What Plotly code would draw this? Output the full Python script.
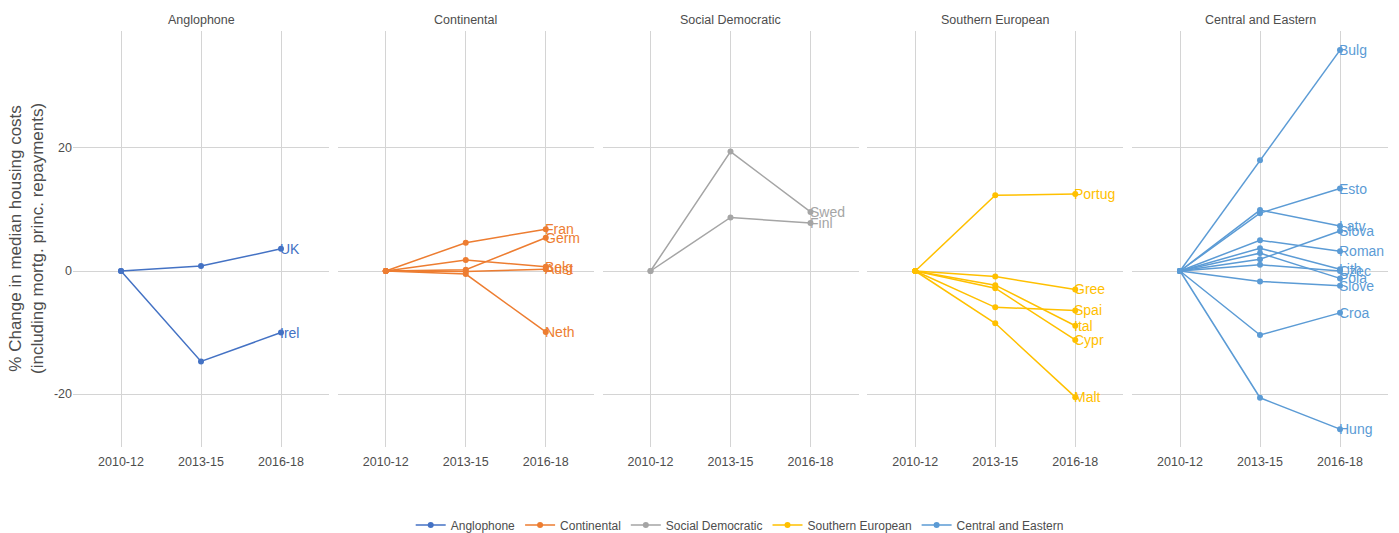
import plotly.graph_objects as go

periods = ["2010-12", "2013-15", "2016-18"]

groups = ["Anglophone", "Continental", "Social Democratic", "Southern European", "Central and Eastern"]
colors = ["#4472C4", "#ED7D31", "#A5A5A5", "#FFC000", "#5B9BD5"]

anglophone_names = ["UK", "Irel"]
anglophone_vals = [[0, 0.8, 3.6], [0, -14.7, -10.0]]

continental_names = ["Fran", "Germ", "Belg", "Aust", "Neth"]
continental_vals = [[0, 4.6, 6.8], [0, 0.2, 5.4], [0, 1.8, 0.7], [0, -0.1, 0.3], [0, -0.5, -9.9]]

socdem_names = ["Swed", "Finl"]
socdem_vals = [[0, 19.4, 9.6], [0, 8.7, 7.8]]

southern_names = ["Portug", "Gree", "Spai", "Ital", "Cypr", "Malt"]
southern_vals = [[0, 12.3, 12.5], [0, -0.9, -3.0], [0, -5.9, -6.4], [0, -2.3, -8.9],
                 [0, -2.8, -11.2], [0, -8.5, -20.5]]

cee_names = ["Bulg", "Esto", "Latv", "Slova", "Roman", "Lith", "Czec", "Pola", "Slove", "Croa", "Hung"]
cee_vals = [[0, 18.0, 35.9], [0, 9.4, 13.4], [0, 9.9, 7.3], [0, 1.9, 6.5], [0, 5.0, 3.2],
            [0, 3.7, 0.3], [0, 1.0, 0.0], [0, 2.9, -1.2], [0, -1.7, -2.4], [0, -10.4, -6.8],
            [0, -20.6, -25.7]]

ytick_vals = [-20, 0, 20]
ytick_text = ["-20", "0", "20"]

all_names = [anglophone_names, continental_names, socdem_names, southern_names, cee_names]
all_vals = [anglophone_vals, continental_vals, socdem_vals, southern_vals, cee_vals]

W, H = 1399, 533
ml, mr, mt, mb = 73, 11, 31, 86
plot_w = W - ml - mr
plot_h = H - mt - mb
panel_w = 256
gap = (plot_w - 5 * panel_w) / 4

fig = go.Figure()
annotations = []
font_family = "Liberation Sans, Arial, sans-serif"

for gi, (g, col, names, vals) in enumerate(zip(groups, colors, all_names, all_vals)):
    ax = "" if gi == 0 else str(gi + 1)
    for si, (n, v) in enumerate(zip(names, vals)):
        fig.add_trace(go.Scatter(
            x=periods, y=v, mode="lines+markers",
            line=dict(color=col, width=1.5),
            marker=dict(color=col, size=6),
            name=g, legendgroup=g, showlegend=(si == 0),
            xaxis="x" + ax, yaxis="y" + ax,
            hovertemplate=n + ": %{y}<extra></extra>",
        ))
        annotations.append(dict(
            x=periods[-1], y=v[-1], xref="x" + ax, yref="y" + ax,
            text=n, showarrow=False, xanchor="left", yanchor="middle",
            xshift=-2, borderpad=0,
            font=dict(color=col, size=14, family=font_family),
        ))
    d0 = gi * (panel_w + gap) / plot_w
    d1 = (gi * (panel_w + gap) + panel_w) / plot_w
    xaxis = dict(
        domain=[d0, d1], type="category", categoryorder="array", categoryarray=periods,
        range=[-0.6, 2.6], showgrid=True, gridcolor="#d4d4d4", gridwidth=1,
        zeroline=False, showline=False, ticks="", ticklen=0, ticklabelstandoff=5,
        tickfont=dict(size=12.5, color="#4d4d4d", family=font_family),
        anchor="y" + ax, fixedrange=True, automargin=False,
    )
    yaxis = dict(
        range=[-28.6, 39.0], tickvals=ytick_vals, ticktext=ytick_text,
        showgrid=True, gridcolor="#d4d4d4", gridwidth=1, zeroline=False,
        showticklabels=(gi == 0), ticks="",
        tickfont=dict(size=12.5, color="#4d4d4d", family=font_family),
        anchor="x" + ax, fixedrange=True, automargin=False,
    )
    fig.update_layout(**{"xaxis" + ax: xaxis, "yaxis" + ax: yaxis})
    annotations.append(dict(
        x=(d0 + d1) / 2, y=1.0, xref="paper", yref="paper", text=g, showarrow=False,
        xanchor="center", yanchor="bottom", yshift=2,
        font=dict(size=12.5, color="#4d4d4d", family=font_family),
    ))

annotations.append(dict(
    x=0, y=0.5, xref="paper", yref="paper", xshift=-47,
    text="% Change in median housing costs<br>(including mortg. princ. repayments)",
    showarrow=False, textangle=-90, xanchor="center", yanchor="middle",
    font=dict(size=17, color="#4d4d4d", family=font_family),
))

fig.update_layout(
    width=W, height=H,
    margin=dict(l=ml, r=mr, t=mt, b=mb, autoexpand=False),
    paper_bgcolor="white", plot_bgcolor="white",
    annotations=annotations,
    showlegend=True,
    legend=dict(orientation="h", x=0.507, xanchor="center",
                y=-(525 - (H - mb)) / plot_h, yanchor="middle",
                font=dict(size=12, color="#4d4d4d", family=font_family),
                itemwidth=30),
    font=dict(family=font_family),
)

fig.write_html(
    "out.html",
    config={"displayModeBar": False},
    post_script="document.body.style.margin='0';document.body.style.overflow='hidden';",
)
